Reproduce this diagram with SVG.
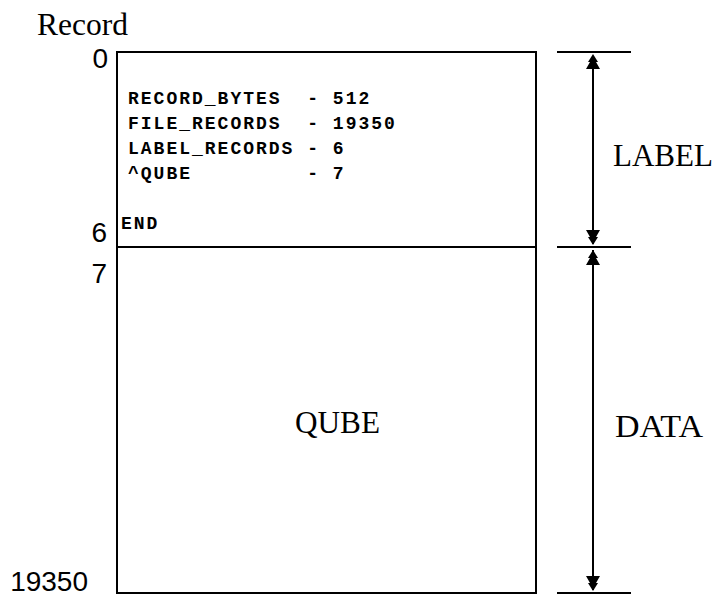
<svg xmlns="http://www.w3.org/2000/svg" width="716" height="598" viewBox="0 0 716 598">
<defs>
<style>
.ln{stroke:#000;stroke-width:2;fill:none}
.serif{font-family:"Liberation Serif","Times New Roman",serif;fill:#000}
.num{font-family:"Liberation Sans",Arial,sans-serif;font-size:28px;fill:#000}
.mono{font-family:"Liberation Mono","Courier New",monospace;font-size:18px;font-weight:bold;letter-spacing:2px;fill:#000;white-space:pre}
</style>
<path id="ahup" d="M0 0 L5 8 L3 8 L7 15 L-7 15 L-3 8 L-5 8 Z" fill="#000"/>
</defs>
<rect width="716" height="598" fill="#fff"/>
<g id="record-axis">
<text class="serif" x="37" y="35" font-size="32" textLength="91" lengthAdjust="spacingAndGlyphs">Record</text>
<text class="num" x="108" y="68" text-anchor="end">0</text>
<text class="num" x="107" y="242" text-anchor="end">6</text>
<text class="num" x="107" y="283" text-anchor="end">7</text>
<text class="num" x="88" y="591" text-anchor="end">19350</text>
</g>
<g id="label-area">
<rect class="ln" x="117" y="52" width="419" height="195"/>
<text class="mono" x="128" y="104">RECORD_BYTES  - 512</text>
<text class="mono" x="128" y="129">FILE_RECORDS  - 19350</text>
<text class="mono" x="128" y="154">LABEL_RECORDS - 6</text>
<text class="mono" x="128" y="179">^QUBE         - 7</text>
<text class="mono" x="121" y="229">END</text>
</g>
<g id="qube-area">
<rect class="ln" x="117" y="247" width="419" height="346"/>
<text class="serif" x="295" y="433" font-size="31" textLength="85" lengthAdjust="spacingAndGlyphs">QUBE</text>
</g>
<g id="connectors">
<line class="ln" x1="557" y1="52" x2="631" y2="52"/>
<line class="ln" x1="557" y1="247" x2="631" y2="247"/>
<line class="ln" x1="557" y1="593" x2="631" y2="593"/>
<line class="ln" x1="593" y1="56" x2="593" y2="244"/>
<line class="ln" x1="593" y1="250" x2="593" y2="590"/>
<use href="#ahup" transform="translate(593,54)"/>
<use href="#ahup" transform="translate(593,245) scale(1,-1)"/>
<use href="#ahup" transform="translate(593,250)"/>
<use href="#ahup" transform="translate(593,591) scale(1,-1)"/>
</g>
<g id="dim-labels">
<text class="serif" x="613" y="166" font-size="31" textLength="100" lengthAdjust="spacingAndGlyphs">LABEL</text>
<text class="serif" x="615" y="437" font-size="31" textLength="88" lengthAdjust="spacingAndGlyphs">DATA</text>
</g>
</svg>
